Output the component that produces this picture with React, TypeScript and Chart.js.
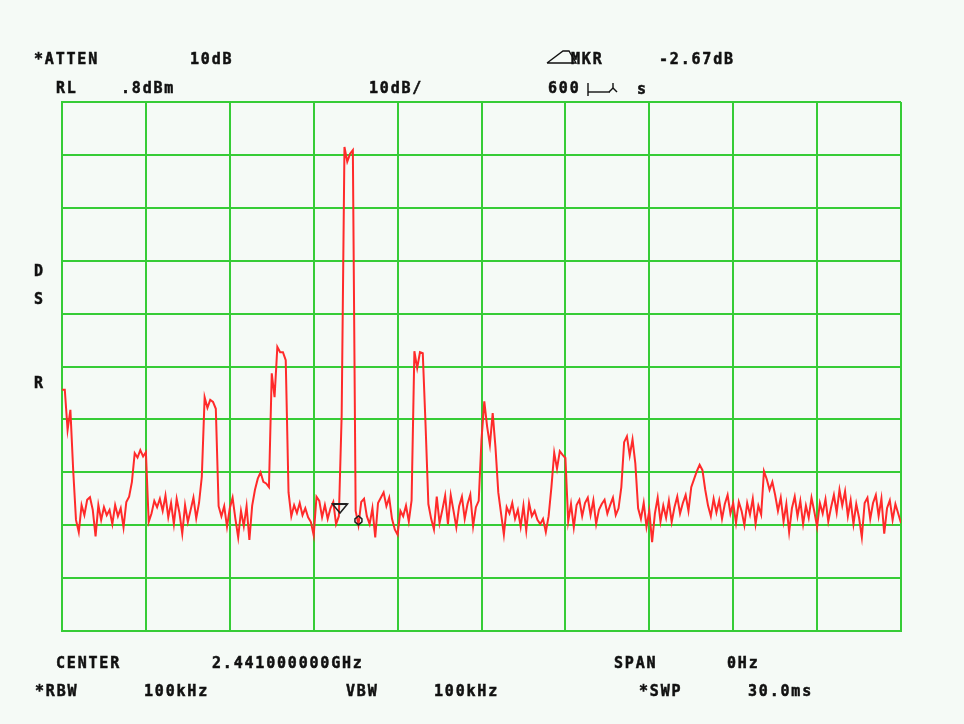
import React, { useEffect, useRef } from "react";
import { Chart, registerables } from "chart.js";

Chart.register(...registerables);

// ---- instrument settings / axes ----
const SWEEP_MS = 30;
const TIME_GRID_MS = [0, 3, 6, 9, 12, 15, 18, 21, 24, 27, 30];
const LEVEL_GRID_DBM = [0.8, -9.2, -19.2, -29.2, -39.2, -49.2, -59.2, -69.2, -79.2, -89.2, -99.2];

// ---- trace (dBm), 301 sweep points over 30 ms ----
const TRACE_DBM = [
  -53.6, -53.6, -61.2, -57.4, -68.8, -78.2, -80.5, -75.4, -77.3, -74.4,
  -73.9, -76.3, -81.3, -75.4, -78.2, -75.8, -77.3, -76.3, -79.0, -75.4,
  -77.5, -76.0, -79.6, -74.8, -73.8, -71.0, -65.6, -66.4, -65.0, -66.2,
  -65.4, -78.6, -77.0, -74.6, -75.8, -74.2, -76.5, -73.6, -77.7, -75.0,
  -79.0, -74.2, -76.9, -80.8, -75.4, -78.6, -76.3, -74.0, -77.9, -75.0,
  -70.0, -55.0, -57.0, -55.5, -55.9, -57.2, -75.6, -77.5, -75.6, -79.5,
  -76.0, -74.0, -78.0, -81.5, -76.5, -79.4, -75.6, -82.0, -75.5, -72.5,
  -70.4, -69.2, -71.0, -71.3, -72.0, -50.5, -55.0, -45.5, -46.5, -46.5,
  -48.0, -73.0, -77.5, -75.4, -76.9, -75.0, -77.3, -76.0, -77.7, -78.6,
  -81.1, -73.8, -74.6, -77.7, -75.4, -78.0, -76.0, -74.8, -79.0, -77.5,
  -58.4, -7.7, -10.5, -9.0, -8.3, -76.5, -79.2, -74.8, -74.2, -77.5,
  -79.0, -76.0, -81.5, -75.0, -74.0, -73.0, -75.6, -74.0, -78.0, -80.0,
  -81.0, -76.5, -77.5, -75.5, -78.5, -74.5, -46.3, -49.5, -46.5, -46.7,
  -60.3, -75.2, -78.0, -80.0, -73.8, -78.8, -76.3, -73.6, -79.0, -73.5,
  -76.5, -79.6, -75.6, -73.8, -78.0, -75.2, -73.4, -79.4, -75.8, -74.6,
  -63.0, -55.8, -60.5, -64.0, -58.0, -64.5, -73.0, -77.0, -81.0, -75.8,
  -77.0, -75.0, -78.0, -76.3, -79.5, -75.5, -80.2, -75.0, -77.5, -76.5,
  -78.2, -79.0, -78.0, -80.5, -77.5, -72.0, -65.5, -68.5, -65.2, -65.9,
  -66.5, -78.5, -75.2, -79.6, -75.4, -74.4, -77.5, -75.0, -74.0, -77.3,
  -74.5, -79.0, -76.3, -75.2, -74.4, -77.0, -75.4, -74.0, -77.3, -76.0,
  -72.0, -63.5, -62.4, -66.0, -63.0, -67.5, -76.0, -78.0, -75.0, -79.5,
  -76.5, -82.4, -77.0, -74.0, -78.5, -75.5, -77.8, -74.6, -78.6, -75.8,
  -73.8, -77.0, -75.0, -73.5, -76.5, -72.0, -70.5, -69.0, -67.8, -68.8,
  -72.5, -75.5, -77.5, -74.2, -76.8, -74.5, -78.0, -75.2, -73.5, -77.0,
  -75.0, -78.8, -74.8, -76.5, -79.2, -75.0, -77.2, -74.2, -79.0, -75.5,
  -77.2, -69.0, -70.5, -72.5, -71.0, -73.5, -76.5, -74.0, -78.5, -75.2,
  -80.5, -76.0, -73.8, -77.5, -74.6, -79.0, -75.5, -77.8, -74.0, -76.6,
  -79.5, -75.0, -77.0, -74.3, -78.5, -75.8, -73.5, -76.8, -72.5, -75.5,
  -72.8, -77.5, -74.5, -79.0, -75.2, -77.8, -81.5, -75.0, -74.0, -78.0,
  -75.0, -73.5, -77.5, -74.2, -80.8, -76.0, -74.5, -78.2, -75.2, -77.0,
  -78.8,
];

// ---- markers: [normal marker (▽), delta marker (◇)] ----
const MARKER_MS = [9.94, 10.6];
const MARKER_DBM = [-76.9, -78.3];

// ---- annotation texts: [text, left x, cap-centre y] ----
const LABELS: [string, number, number][] = [
  ["*ATTEN", 35, 59],
  ["10dB", 191, 59],
  ["MKR", 572, 59],
  ["-2.67dB", 660, 59],
  ["RL", 57, 88],
  [".8dBm", 122, 88],
  ["10dB/", 370, 88],
  ["600", 549, 88],
  ["s", 638, 89],
  ["D", 35, 271],
  ["S", 35, 299],
  ["R", 35, 383],
  ["CENTER", 57, 663],
  ["2.441000000GHz", 213, 663],
  ["SPAN", 615, 663],
  ["0Hz", 728, 663],
  ["*RBW", 36, 691],
  ["100kHz", 145, 691],
  ["VBW", 347, 691],
  ["100kHz", 435, 691],
  ["*SWP", 640, 691],
  ["30.0ms", 749, 691],
];

const GRID_COLOR = "#36cc36";
const TRACE_COLOR = "#ff2a2a";
const BG = "#f5faf6";

const markerPlugin = {
  id: "markers",
  afterDatasetsDraw(chart: any) {
    const { ctx, scales } = chart;
    ctx.save();
    ctx.strokeStyle = "#222";
    ctx.lineWidth = 1.5;
    const x0 = scales.x.getPixelForValue(MARKER_MS[0]);
    const y0 = scales.y.getPixelForValue(MARKER_DBM[0]);
    ctx.beginPath();
    ctx.moveTo(x0 - 7.5, y0 - 9);
    ctx.lineTo(x0 + 7.5, y0 - 9);
    ctx.lineTo(x0, y0);
    ctx.closePath();
    ctx.stroke();
    ctx.lineWidth = 2;
    ctx.beginPath();
    ctx.moveTo(x0 - 7.5, y0 - 9);
    ctx.lineTo(x0 + 7.5, y0 - 9);
    ctx.stroke();
    const x1 = scales.x.getPixelForValue(MARKER_MS[1]);
    const y1 = scales.y.getPixelForValue(MARKER_DBM[1]);
    ctx.lineWidth = 1.5;
    ctx.beginPath();
    ctx.moveTo(x1, y1 - 4.5);
    ctx.lineTo(x1 + 3.5, y1 - 1.5);
    ctx.lineTo(x1 + 3.5, y1 + 1.5);
    ctx.lineTo(x1, y1 + 4.5);
    ctx.lineTo(x1 - 3.5, y1 + 1.5);
    ctx.lineTo(x1 - 3.5, y1 - 1.5);
    ctx.closePath();
    ctx.stroke();
    ctx.restore();
  },
};

export default function App() {
  const canvasRef = useRef<HTMLCanvasElement | null>(null);

  useEffect(() => {
    if (!canvasRef.current) return;
    const n = TRACE_DBM.length;
    const points = TRACE_DBM.map((v, i) => ({ x: (i * SWEEP_MS) / (n - 1), y: v }));
    const chart = new Chart(canvasRef.current, {
      type: "line",
      data: {
        datasets: [
          {
            data: points,
            borderColor: TRACE_COLOR,
            borderWidth: 2,
            pointRadius: 0,
            tension: 0,
            fill: false,
          },
        ],
      },
      options: {
        animation: false,
        responsive: false,
        events: [],
        layout: { padding: { left: 62, top: 102, right: 63, bottom: 93 } },
        plugins: { legend: { display: false }, tooltip: { enabled: false } },
        scales: {
          x: {
            type: "linear",
            min: 0,
            max: SWEEP_MS,
            afterBuildTicks: (axis: any) => {
              axis.ticks = TIME_GRID_MS.map((v) => ({ value: v }));
            },
            ticks: { display: false },
            grid: { color: GRID_COLOR, lineWidth: 2, drawTicks: false },
            border: { display: true, color: GRID_COLOR, width: 2 },
          },
          y: {
            type: "linear",
            min: LEVEL_GRID_DBM[LEVEL_GRID_DBM.length - 1],
            max: LEVEL_GRID_DBM[0],
            afterBuildTicks: (axis: any) => {
              axis.ticks = LEVEL_GRID_DBM.map((v) => ({ value: v }));
            },
            ticks: { display: false },
            grid: { color: GRID_COLOR, lineWidth: 2, drawTicks: false },
            border: { display: true, color: GRID_COLOR, width: 2 },
          },
        },
      },
      plugins: [markerPlugin],
    });
    return () => chart.destroy();
  }, []);

  return (
    <div
      style={{
        position: "fixed",
        left: 0,
        top: 0,
        width: 964,
        height: 724,
        background: BG,
        overflow: "hidden",
      }}
    >
      <canvas
        ref={canvasRef}
        width={964}
        height={724}
        style={{ position: "absolute", left: 0, top: 0, width: 964, height: 724 }}
      />
      {LABELS.map(([t, x, y], i) => (
        <span
          key={i}
          style={{
            position: "absolute",
            left: x - 1,
            top: y - 7.5,
            fontFamily: "'DejaVu Sans Mono', monospace",
            fontWeight: 700,
            fontSize: 15,
            lineHeight: "15px",
            letterSpacing: "1.8px",
            color: "#111",
            whiteSpace: "pre",
            WebkitTextStroke: "0.5px #111",
          }}
        >
          {t}
        </span>
      ))}
      <svg
        width={964}
        height={724}
        style={{ position: "absolute", left: 0, top: 0, pointerEvents: "none" }}
      >
        <polyline
          points="547,63 563,51 569,51 576,63 547,63"
          fill="none"
          stroke="#111"
          strokeWidth={1.4}
        />
        <g stroke="#111" strokeWidth={1.4} fill="none">
          <line x1={588} y1={83} x2={588} y2={96} />
          <line x1={588} y1={92} x2={610} y2={92} />
          <line x1={613} y1={83} x2={613} y2={88} />
          <line x1={613} y1={88} x2={609} y2={92} />
          <line x1={613} y1={88} x2={617} y2={92} />
        </g>
      </svg>
    </div>
  );
}
